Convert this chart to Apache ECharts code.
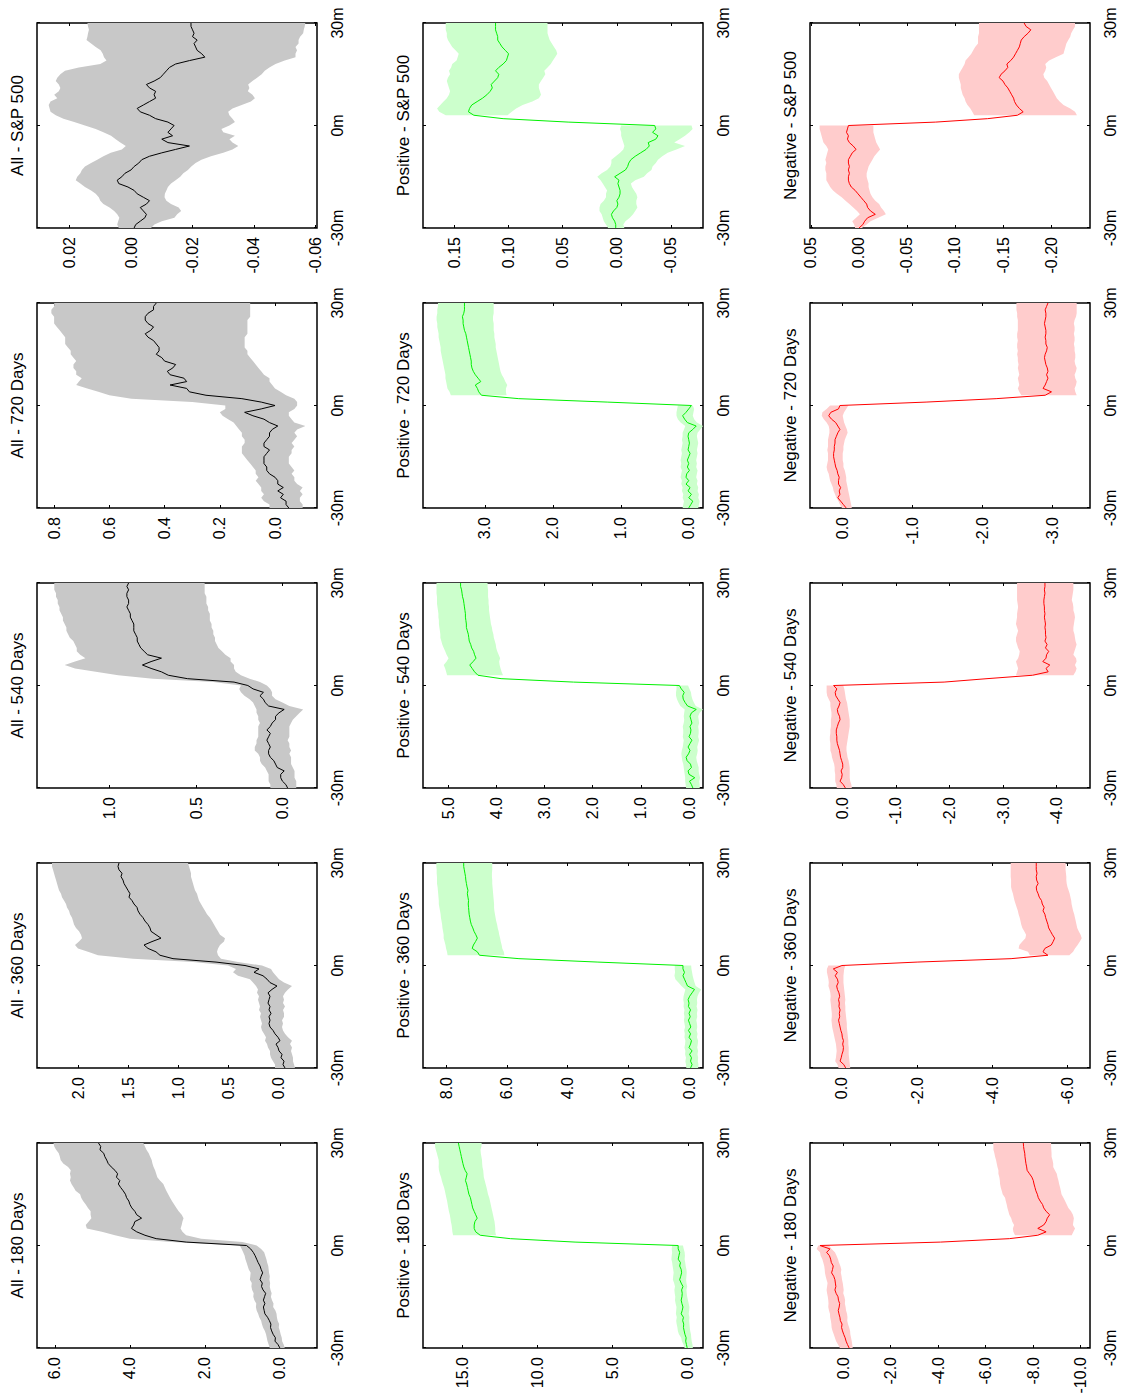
<!DOCTYPE html>
<html>
<head>
<meta charset="utf-8">
<script src="https://cdn.jsdelivr.net/npm/echarts@6/dist/echarts.min.js"></script>
<style>
  html, body { margin: 0; padding: 0; overflow: hidden; background: #fff; }
  /* the figure is laid out landscape and turned a quarter turn, like the scanned page */
  #chart {
    position: absolute; left: 0; top: 0;
    width: 1397px; height: 1122px;
    transform-origin: 0 0;
    transform: translateY(1397px) rotate(-90deg);
  }
</style>
</head>
<body>
<div id="chart"></div>
<script>
const minutes = [-30,-29,-28,-27,-26,-25,-24,-23,-22,-21,-20,-19,-18,-17,-16,-15,-14,-13,-12,-11,
  -10,-9,-8,-7,-6,-5,-4,-3,-2,-1,0,1,2,3,4,5,6,7,8,9,10,11,12,13,14,15,16,17,18,19,
  20,21,22,23,24,25,26,27,28,29,30];
const timeTicks = [-30, 0, 30];
const periods = ['180 Days', '360 Days', '540 Days', '720 Days', 'S&P 500'];

// ---- All ----
const allMean180 = [0.00,0.05,0.13,0.12,0.18,0.22,0.25,0.24,0.28,0.33,
  0.40,0.42,0.44,0.40,0.44,0.41,0.38,0.45,0.49,0.47,
  0.53,0.50,0.46,0.50,0.53,0.58,0.62,0.66,0.71,0.78,
  0.89,2.50,3.30,3.60,3.82,3.96,3.90,3.87,3.69,3.82,
  3.87,3.95,4.00,4.03,4.09,4.12,4.18,4.25,4.31,4.27,
  4.36,4.33,4.40,4.50,4.58,4.62,4.67,4.70,4.80,4.78,
  4.84];
const allUp180 = [0.27,0.30,0.33,0.35,0.37,0.40,0.45,0.48,0.50,0.55,
  0.58,0.62,0.64,0.63,0.68,0.71,0.70,0.74,0.76,0.75,
  0.80,0.79,0.78,0.83,0.86,0.89,0.92,0.94,0.98,1.02,
  1.07,2.90,4.00,4.40,4.75,5.15,5.18,5.10,5.03,5.05,
  5.05,5.12,5.18,5.25,5.30,5.33,5.45,5.50,5.56,5.60,
  5.58,5.60,5.58,5.65,5.78,5.85,5.87,5.90,5.97,6.02,
  6.04];
const allLow180 = [-0.13,-0.10,-0.06,-0.05,-0.02,0.00,0.03,0.02,0.06,0.08,
  0.09,0.12,0.18,0.17,0.21,0.24,0.22,0.25,0.27,0.26,
  0.28,0.27,0.29,0.30,0.31,0.34,0.36,0.39,0.42,0.50,
  0.62,1.00,2.10,2.50,2.60,2.65,2.62,2.60,2.57,2.62,
  2.70,2.76,2.82,2.88,2.93,2.98,3.03,3.07,3.11,3.20,
  3.27,3.30,3.33,3.37,3.40,3.42,3.46,3.50,3.56,3.60,
  3.64];

const allMean360 = [-0.07,-0.05,-0.06,-0.03,-0.04,-0.01,0.00,0.02,-0.02,0.00,
  0.03,0.05,0.08,0.09,0.08,0.09,0.07,0.09,0.08,0.10,
  0.09,0.08,0.10,0.06,0.01,0.08,0.11,0.15,0.24,0.19,
  0.33,0.62,1.05,1.18,1.22,1.30,1.34,1.26,1.17,1.22,
  1.27,1.28,1.30,1.33,1.35,1.38,1.40,1.41,1.44,1.46,
  1.49,1.48,1.50,1.52,1.54,1.55,1.57,1.56,1.59,1.60,
  1.59];
const allUp360 = [0.03,0.03,0.05,0.07,0.08,0.08,0.10,0.11,0.13,0.12,
  0.14,0.16,0.17,0.16,0.17,0.18,0.17,0.19,0.18,0.19,
  0.20,0.19,0.21,0.20,0.22,0.25,0.28,0.40,0.45,0.42,
  0.50,0.85,1.45,1.80,1.90,2.00,2.03,1.99,1.96,1.97,
  1.99,2.02,2.04,2.05,2.06,2.08,2.09,2.11,2.12,2.14,
  2.16,2.17,2.19,2.20,2.21,2.22,2.23,2.24,2.25,2.26,
  2.26];
const allLow360 = [-0.17,-0.16,-0.15,-0.15,-0.14,-0.13,-0.14,-0.12,-0.14,-0.10,
  -0.07,-0.05,-0.04,-0.05,-0.04,-0.06,-0.06,-0.05,-0.07,-0.05,
  -0.06,-0.05,-0.07,-0.10,-0.14,-0.06,-0.01,0.02,0.05,0.07,
  0.16,0.40,0.57,0.60,0.61,0.60,0.58,0.54,0.53,0.58,
  0.60,0.62,0.64,0.66,0.68,0.71,0.73,0.75,0.77,0.79,
  0.80,0.81,0.83,0.84,0.85,0.86,0.87,0.87,0.88,0.89,
  0.90];

const allMean540 = [-0.03,-0.02,0.00,0.01,0.01,-0.01,0.03,0.04,0.05,0.07,
  0.08,0.08,0.07,0.08,0.09,0.08,0.07,0.09,0.07,0.06,
  0.04,0.04,0.02,-0.01,0.08,0.10,0.11,0.13,0.11,0.17,
  0.20,0.28,0.55,0.66,0.70,0.76,0.81,0.76,0.70,0.78,
  0.80,0.82,0.83,0.84,0.84,0.85,0.86,0.86,0.86,0.87,
  0.88,0.88,0.89,0.90,0.89,0.89,0.90,0.90,0.89,0.90,
  0.89];
const allUp540 = [0.07,0.07,0.08,0.08,0.08,0.09,0.10,0.12,0.13,0.13,
  0.14,0.16,0.16,0.15,0.15,0.14,0.14,0.14,0.14,0.13,
  0.14,0.14,0.15,0.15,0.16,0.17,0.19,0.22,0.24,0.25,
  0.24,0.40,0.75,0.95,1.08,1.20,1.26,1.20,1.14,1.17,
  1.19,1.19,1.20,1.21,1.23,1.24,1.25,1.25,1.26,1.27,
  1.27,1.28,1.29,1.29,1.30,1.30,1.31,1.31,1.32,1.32,
  1.32];
const allLow540 = [-0.08,-0.08,-0.08,-0.07,-0.07,-0.07,-0.06,-0.05,-0.05,-0.05,
  -0.04,-0.05,-0.04,-0.04,-0.03,-0.04,-0.04,-0.04,-0.04,-0.05,
  -0.06,-0.08,-0.10,-0.12,-0.04,0.00,0.04,0.06,0.06,0.07,
  0.09,0.13,0.19,0.24,0.27,0.28,0.28,0.30,0.30,0.33,
  0.35,0.37,0.38,0.39,0.39,0.40,0.40,0.41,0.41,0.42,
  0.42,0.42,0.43,0.43,0.44,0.44,0.44,0.45,0.45,0.45,
  0.45];

const allMean720 = [-0.05,-0.04,-0.04,-0.02,-0.03,-0.01,-0.03,-0.01,-0.01,0.00,
  0.02,0.03,0.03,0.04,0.04,0.04,0.03,0.02,0.04,0.04,
  0.03,0.02,0.02,0.01,-0.01,0.02,0.04,0.08,0.11,0.05,
  0.00,0.05,0.12,0.25,0.31,0.32,0.38,0.32,0.33,0.38,
  0.39,0.37,0.36,0.40,0.41,0.43,0.42,0.42,0.43,0.44,
  0.46,0.47,0.45,0.44,0.46,0.47,0.47,0.46,0.44,0.44,
  0.43];
const allUp720 = [0.02,0.02,0.04,0.05,0.04,0.05,0.05,0.06,0.07,0.06,
  0.07,0.07,0.08,0.09,0.10,0.11,0.12,0.12,0.12,0.11,
  0.11,0.12,0.12,0.13,0.14,0.15,0.17,0.19,0.20,0.18,
  0.18,0.30,0.52,0.60,0.64,0.68,0.72,0.71,0.70,0.72,
  0.72,0.73,0.73,0.72,0.73,0.74,0.74,0.75,0.76,0.76,
  0.76,0.77,0.78,0.79,0.80,0.80,0.80,0.81,0.81,0.80,
  0.80];
const allLow720 = [-0.10,-0.10,-0.09,-0.09,-0.10,-0.09,-0.10,-0.08,-0.07,-0.07,
  -0.06,-0.07,-0.06,-0.05,-0.05,-0.05,-0.06,-0.06,-0.07,-0.06,
  -0.07,-0.08,-0.07,-0.08,-0.11,-0.07,-0.06,-0.05,-0.05,-0.07,
  -0.08,-0.08,-0.07,-0.04,-0.02,0.00,0.01,0.02,0.02,0.04,
  0.05,0.06,0.07,0.08,0.09,0.10,0.10,0.11,0.11,0.11,
  0.11,0.10,0.10,0.10,0.10,0.10,0.09,0.09,0.09,0.09,
  0.09];

const allMeanSpx = [-0.0010,-0.0015,-0.0030,-0.0045,-0.0050,-0.0040,-0.0030,-0.0050,-0.0060,-0.0040,
  -0.0020,-0.0010,0.0010,0.0040,0.0045,0.0030,0.0020,0.0000,-0.0010,-0.0025,
  -0.0035,-0.0060,-0.0100,-0.0145,-0.0190,-0.0120,-0.0100,-0.0135,-0.0120,-0.0130,
  -0.0140,-0.0120,-0.0080,-0.0060,-0.0030,-0.0020,-0.0040,-0.0060,-0.0080,-0.0075,
  -0.0080,-0.0060,-0.0050,-0.0075,-0.0095,-0.0105,-0.0115,-0.0125,-0.0145,-0.0190,
  -0.0240,-0.0230,-0.0215,-0.0210,-0.0205,-0.0215,-0.0200,-0.0205,-0.0200,-0.0195,
  -0.0195];
const allUpSpx = [0.0040,0.0045,0.0042,0.0038,0.0045,0.0055,0.0070,0.0090,0.0100,0.0105,
  0.0115,0.0130,0.0150,0.0165,0.0180,0.0175,0.0165,0.0160,0.0150,0.0130,
  0.0110,0.0090,0.0066,0.0030,0.0017,0.0035,0.0050,0.0065,0.0090,0.0115,
  0.0150,0.0185,0.0220,0.0245,0.0262,0.0265,0.0268,0.0262,0.0240,0.0250,
  0.0235,0.0230,0.0235,0.0245,0.0240,0.0230,0.0215,0.0170,0.0100,0.0080,
  0.0088,0.0092,0.0099,0.0115,0.0130,0.0145,0.0142,0.0140,0.0137,0.0140,
  0.0142];
const allLowSpx = [-0.0065,-0.0076,-0.0100,-0.0141,-0.0150,-0.0163,-0.0155,-0.0130,-0.0115,-0.0109,
  -0.0110,-0.0115,-0.0120,-0.0130,-0.0145,-0.0160,-0.0170,-0.0185,-0.0196,-0.0210,
  -0.0229,-0.0260,-0.0300,-0.0330,-0.0349,-0.0330,-0.0320,-0.0338,-0.0300,-0.0294,
  -0.0320,-0.0338,-0.0330,-0.0320,-0.0316,-0.0330,-0.0360,-0.0390,-0.0403,-0.0395,
  -0.0380,-0.0385,-0.0381,-0.0395,-0.0410,-0.0425,-0.0435,-0.0450,-0.0470,-0.0500,
  -0.0535,-0.0535,-0.0540,-0.0535,-0.0545,-0.0545,-0.0550,-0.0560,-0.0562,-0.0565,
  -0.0567];

// ---- Positive ----
const posMean180 = [0.05,0.10,0.15,0.12,0.20,0.25,0.30,0.28,0.35,0.30,
  0.45,0.38,0.33,0.40,0.45,0.40,0.38,0.42,0.33,0.45,
  0.55,0.48,0.42,0.45,0.55,0.50,0.65,0.60,0.55,0.65,
  0.65,7.50,11.80,13.80,14.10,14.20,14.20,14.15,14.00,14.10,
  14.20,14.30,14.35,14.40,14.45,14.55,14.60,14.65,14.70,14.78,
  14.72,14.67,14.80,14.89,14.95,15.00,15.05,15.10,15.15,15.20,
  15.25];
const posUp180 = [0.22,0.30,0.40,0.45,0.60,0.67,0.70,0.75,0.78,0.74,
  0.80,0.78,0.76,0.82,0.86,0.84,0.88,0.90,0.86,0.92,
  1.00,0.98,0.95,0.98,1.02,1.05,1.10,1.08,1.05,1.08,
  1.05,null,null,15.60,15.65,15.67,15.70,15.75,15.78,15.82,
  15.88,15.92,15.96,16.00,16.05,16.10,16.15,16.20,16.28,16.35,
  16.40,16.48,16.54,16.56,16.55,16.56,16.62,16.68,16.75,16.80,
  16.80];
const posLow180 = [-0.33,-0.30,-0.25,-0.22,-0.20,-0.15,-0.12,-0.10,-0.08,-0.10,
  -0.05,-0.08,-0.10,-0.05,0.00,0.05,0.08,0.10,0.05,0.10,
  0.12,0.10,0.08,0.10,0.15,0.18,0.22,0.20,0.22,0.28,
  0.33,null,null,12.75,12.80,12.80,12.82,12.85,12.90,12.95,
  13.00,13.05,13.10,13.15,13.20,13.28,13.33,13.38,13.44,13.50,
  13.56,13.58,13.60,13.65,13.67,13.68,13.72,13.76,13.78,13.72,
  13.70];

const posMean360 = [-0.05,-0.10,-0.05,-0.08,-0.02,-0.10,0.00,-0.05,-0.08,0.00,
  -0.05,0.02,-0.06,-0.02,0.02,-0.04,0.00,-0.05,0.02,0.00,
  0.03,-0.02,-0.10,-0.18,0.05,0.10,0.15,0.20,0.15,0.20,
  0.20,3.00,5.60,6.90,6.97,7.14,7.10,7.03,6.97,7.02,
  7.08,7.12,7.17,7.20,7.22,7.24,7.25,7.26,7.27,7.26,
  7.28,7.30,7.28,7.31,7.33,7.35,7.36,7.38,7.40,7.42,
  7.42];
const posUp360 = [0.09,0.10,0.12,0.10,0.13,0.12,0.15,0.13,0.12,0.15,
  0.14,0.16,0.13,0.15,0.17,0.15,0.17,0.15,0.18,0.17,
  0.19,0.18,0.15,0.12,0.25,0.35,0.45,0.48,0.46,0.47,
  0.47,null,null,7.95,7.97,8.00,8.02,8.05,8.08,8.08,
  8.10,8.12,8.13,8.15,8.17,8.18,8.20,8.22,8.24,8.24,
  8.25,8.26,8.27,8.28,8.30,8.30,8.30,8.31,8.31,8.32,
  8.32];
const posLow360 = [-0.30,-0.31,-0.29,-0.30,-0.28,-0.30,-0.27,-0.29,-0.30,-0.26,
  -0.28,-0.25,-0.27,-0.26,-0.24,-0.27,-0.26,-0.28,-0.25,-0.27,
  -0.26,-0.28,-0.33,-0.40,-0.22,-0.18,-0.15,-0.12,-0.10,-0.08,
  -0.07,null,null,6.08,6.10,6.15,6.17,6.20,6.22,6.25,
  6.27,6.30,6.32,6.35,6.37,6.39,6.41,6.42,6.42,6.43,
  6.44,6.45,6.46,6.47,6.48,6.48,6.49,6.49,6.48,6.48,
  6.48];

const posMean540 = [-0.08,-0.05,-0.01,-0.12,0.00,0.02,-0.05,-0.03,0.04,0.06,
  0.01,-0.02,0.02,-0.02,-0.06,0.00,-0.03,-0.04,-0.02,-0.06,
  -0.04,-0.02,-0.05,-0.15,0.03,0.08,0.12,0.13,0.10,0.16,
  0.20,2.40,3.90,4.38,4.45,4.50,4.55,4.48,4.42,4.45,
  4.47,4.51,4.53,4.56,4.57,4.58,4.60,4.62,4.62,4.63,
  4.64,4.64,4.65,4.66,4.67,4.68,4.70,4.71,4.72,4.74,
  4.74];
const posUp540 = [0.06,0.07,0.08,0.08,0.09,0.10,0.11,0.12,0.14,0.15,
  0.16,0.15,0.13,0.12,0.11,0.13,0.12,0.12,0.13,0.11,
  0.10,0.11,0.10,0.09,0.18,0.22,0.25,0.27,0.27,0.26,
  0.26,null,null,5.02,5.04,5.06,5.09,5.03,4.99,5.03,
  5.06,5.09,5.12,5.14,5.16,5.16,5.17,5.18,5.19,5.19,
  5.20,5.20,5.21,5.22,5.23,5.23,5.23,5.24,5.24,5.24,
  5.24];
const posLow540 = [-0.22,-0.22,-0.21,-0.23,-0.21,-0.20,-0.20,-0.18,-0.16,-0.15,
  -0.17,-0.18,-0.17,-0.19,-0.21,-0.19,-0.20,-0.20,-0.19,-0.21,
  -0.20,-0.19,-0.22,-0.29,-0.14,-0.10,-0.07,-0.05,-0.04,-0.01,
  0.02,null,null,3.86,3.89,3.91,3.93,3.94,3.92,3.95,
  3.98,4.00,4.01,4.03,4.05,4.06,4.08,4.09,4.11,4.12,
  4.13,4.14,4.15,4.15,4.16,4.16,4.17,4.17,4.17,4.18,
  4.18];

const posMean720 = [0.00,-0.03,-0.06,0.00,-0.04,0.01,-0.02,0.04,0.00,0.04,
  0.03,-0.01,0.02,0.00,0.02,0.00,-0.02,0.01,0.00,-0.01,
  0.00,0.01,0.00,-0.06,-0.11,0.02,0.06,0.09,0.04,0.00,
  -0.04,1.20,2.50,3.05,3.09,3.11,3.14,3.06,3.10,3.14,
  3.17,3.19,3.20,3.20,3.21,3.22,3.23,3.24,3.25,3.26,
  3.27,3.28,3.30,3.31,3.32,3.32,3.33,3.31,3.30,3.30,
  3.30];
const posUp720 = [0.09,0.08,0.07,0.09,0.08,0.10,0.09,0.11,0.10,0.12,
  0.11,0.10,0.12,0.11,0.12,0.11,0.10,0.11,0.10,0.09,
  0.10,0.09,0.09,0.07,0.05,0.12,0.16,0.18,0.18,0.17,
  0.16,null,null,3.50,3.52,3.55,3.56,3.57,3.58,3.58,
  3.59,3.60,3.61,3.62,3.63,3.64,3.65,3.65,3.66,3.67,
  3.68,3.68,3.69,3.70,3.70,3.71,3.71,3.70,3.70,3.69,
  3.69];
const posLow720 = [-0.14,-0.15,-0.16,-0.14,-0.15,-0.13,-0.14,-0.12,-0.13,-0.11,
  -0.12,-0.13,-0.11,-0.12,-0.11,-0.12,-0.13,-0.12,-0.13,-0.14,
  -0.13,-0.12,-0.13,-0.17,-0.21,-0.12,-0.08,-0.06,-0.07,-0.08,
  -0.06,null,null,2.68,2.69,2.69,2.67,2.70,2.72,2.75,
  2.77,2.78,2.79,2.80,2.81,2.82,2.83,2.84,2.84,2.85,
  2.86,2.86,2.87,2.87,2.87,2.88,2.88,2.87,2.87,2.87,
  2.87];

const posMeanSpx = [0.001,0.001,0.002,0.004,0.005,0.003,0.000,-0.001,0.000,-0.002,
  -0.003,-0.003,-0.002,-0.001,-0.002,0.002,-0.003,-0.008,-0.010,-0.011,
  -0.013,-0.017,-0.022,-0.027,-0.030,-0.029,-0.036,-0.038,-0.033,-0.036,
  -0.035,0.045,0.105,0.132,0.137,0.136,0.134,0.129,0.124,0.120,
  0.117,0.115,0.116,0.113,0.110,0.109,0.112,0.109,0.105,0.102,
  0.101,0.100,0.103,0.106,0.108,0.110,0.110,0.111,0.112,0.112,
  0.112];
const posUpSpx = [0.008,0.010,0.012,0.013,0.014,0.016,0.016,0.015,0.012,0.010,
  0.010,0.009,0.011,0.013,0.015,0.018,0.014,0.009,0.006,0.005,
  0.005,0.001,-0.003,-0.006,-0.007,-0.006,-0.005,-0.004,-0.004,-0.003,
  -0.004,null,null,0.158,0.164,0.166,0.163,0.160,0.157,0.155,
  0.154,0.155,0.156,0.157,0.156,0.154,0.155,0.153,0.152,0.148,
  0.147,0.146,0.149,0.152,0.154,0.156,0.157,0.157,0.158,0.158,
  0.158];
const posLowSpx = [-0.007,-0.006,-0.008,-0.012,-0.015,-0.017,-0.019,-0.018,-0.018,-0.019,
  -0.018,-0.016,-0.014,-0.013,-0.017,-0.025,-0.028,-0.032,-0.033,-0.036,
  -0.038,-0.042,-0.047,-0.055,-0.063,-0.053,-0.058,-0.063,-0.067,-0.070,
  -0.069,null,null,0.101,0.097,0.093,0.087,0.078,0.072,0.070,
  0.071,0.072,0.072,0.070,0.068,0.066,0.067,0.064,0.061,0.059,
  0.057,0.055,0.056,0.058,0.060,0.062,0.063,0.064,0.064,0.064,
  0.064];

// ---- Negative ----
const negMean180 = [-0.25,-0.18,-0.12,-0.08,-0.02,0.03,0.07,0.05,0.12,0.14,
  0.18,0.21,0.17,0.15,0.20,0.22,0.30,0.35,0.31,0.33,
  0.35,0.40,0.49,0.45,0.42,0.50,0.53,0.58,0.70,0.56,
  0.98,-4.10,-7.00,-8.20,-8.55,-8.20,-8.45,-8.55,-8.60,-8.70,
  -8.55,-8.45,-8.40,-8.30,-8.22,-8.18,-8.12,-8.08,-8.04,-8.01,
  -7.95,-7.85,-7.75,-7.73,-7.70,-7.68,-7.66,-7.65,-7.62,-7.60,
  -7.59];
const negUp180 = [0.14,0.22,0.30,0.35,0.40,0.45,0.49,0.50,0.52,0.55,
  0.56,0.60,0.63,0.62,0.63,0.65,0.68,0.70,0.68,0.66,
  0.70,0.74,0.77,0.78,0.80,0.84,0.88,0.95,0.98,1.12,
  1.05,null,null,-7.24,-7.17,-7.15,-7.20,-7.12,-7.08,-7.00,
  -6.96,-6.92,-6.89,-6.85,-6.82,-6.72,-6.68,-6.64,-6.61,-6.60,
  -6.58,-6.54,-6.54,-6.50,-6.47,-6.44,-6.40,-6.37,-6.33,-6.33,
  -6.32];
const negLow180 = [-0.40,-0.38,-0.36,-0.33,-0.30,-0.29,-0.25,-0.20,-0.17,-0.18,
  -0.16,-0.12,-0.10,-0.07,-0.08,-0.05,0.00,-0.02,0.00,0.02,
  0.05,0.07,0.10,0.08,0.12,0.18,0.22,0.28,0.35,0.49,
  0.60,null,null,-9.63,-9.70,-9.77,-9.68,-9.70,-9.72,-9.68,
  -9.60,-9.49,-9.42,-9.35,-9.28,-9.20,-9.17,-9.14,-9.10,-9.07,
  -9.03,-9.00,-8.92,-8.85,-8.85,-8.82,-8.78,-8.78,-8.77,-8.76,
  -8.76];

const negMean360 = [-0.10,-0.05,0.05,0.02,0.00,-0.03,-0.04,-0.02,-0.04,-0.01,
  0.00,0.03,0.05,0.07,0.09,0.06,0.07,0.05,0.08,0.07,
  0.09,0.06,0.08,0.12,0.14,0.10,0.12,0.18,0.12,0.23,
  0.00,-2.00,-4.50,-5.48,-5.35,-5.40,-5.57,-5.62,-5.66,-5.60,
  -5.55,-5.50,-5.48,-5.45,-5.42,-5.40,-5.35,-5.38,-5.33,-5.31,
  -5.25,-5.22,-5.18,-5.17,-5.22,-5.18,-5.17,-5.19,-5.17,-5.17,
  -5.17];
const negUp360 = [0.09,0.12,0.18,0.16,0.15,0.14,0.15,0.16,0.18,0.20,
  0.22,0.24,0.26,0.27,0.28,0.27,0.27,0.28,0.29,0.30,
  0.31,0.30,0.31,0.33,0.36,0.35,0.36,0.38,0.40,0.40,
  0.36,null,null,-5.00,-4.95,-4.70,-4.72,-4.80,-4.88,-4.90,
  -4.85,-4.80,-4.77,-4.75,-4.73,-4.70,-4.68,-4.65,-4.62,-4.59,
  -4.57,-4.55,-4.52,-4.50,-4.50,-4.50,-4.49,-4.49,-4.49,-4.49,
  -4.49];
const negLow360 = [-0.22,-0.21,-0.20,-0.19,-0.18,-0.18,-0.18,-0.17,-0.17,-0.16,
  -0.15,-0.14,-0.13,-0.13,-0.12,-0.11,-0.10,-0.09,-0.09,-0.08,
  -0.09,-0.08,-0.07,-0.06,-0.05,-0.04,-0.04,-0.04,-0.05,-0.06,
  -0.09,null,null,-6.05,-6.15,-6.20,-6.27,-6.33,-6.38,-6.35,
  -6.30,-6.26,-6.24,-6.22,-6.20,-6.18,-6.15,-6.13,-6.11,-6.10,
  -6.08,-6.06,-6.03,-6.00,-5.98,-5.97,-5.97,-5.96,-5.95,-5.95,
  -5.95];

const negMean540 = [-0.06,-0.02,0.04,0.01,0.00,0.02,-0.01,-0.01,0.01,0.03,
  0.04,0.05,0.07,0.09,0.10,0.10,0.11,0.11,0.09,0.07,
  0.04,0.05,0.08,0.09,0.06,0.04,0.08,0.12,0.13,0.10,
  0.16,-1.90,-2.70,-3.55,-3.84,-3.80,-3.87,-3.74,-3.80,-3.81,
  -3.85,-3.79,-3.82,-3.78,-3.80,-3.79,-3.79,-3.78,-3.79,-3.78,
  -3.77,-3.78,-3.77,-3.77,-3.76,-3.76,-3.77,-3.78,-3.77,-3.78,
  -3.78];
const negUp540 = [0.10,0.11,0.13,0.13,0.13,0.14,0.14,0.15,0.17,0.19,
  0.20,0.22,0.22,0.22,0.23,0.23,0.22,0.22,0.21,0.21,
  0.21,0.20,0.20,0.21,0.22,0.22,0.25,0.28,0.29,0.29,
  0.29,null,null,-3.24,-3.26,-3.28,-3.26,-3.24,-3.28,-3.30,
  -3.31,-3.28,-3.26,-3.24,-3.24,-3.26,-3.28,-3.26,-3.24,-3.25,
  -3.26,-3.26,-3.27,-3.28,-3.27,-3.26,-3.26,-3.26,-3.26,-3.26,
  -3.26];
const negLow540 = [-0.18,-0.17,-0.15,-0.14,-0.14,-0.14,-0.14,-0.13,-0.12,-0.10,
  -0.09,-0.08,-0.08,-0.09,-0.10,-0.11,-0.12,-0.13,-0.14,-0.14,
  -0.14,-0.13,-0.12,-0.11,-0.10,-0.09,-0.07,-0.06,-0.05,-0.04,
  -0.02,null,null,-4.31,-4.35,-4.37,-4.34,-4.37,-4.36,-4.31,
  -4.33,-4.35,-4.37,-4.35,-4.34,-4.33,-4.31,-4.31,-4.32,-4.33,
  -4.34,-4.33,-4.31,-4.31,-4.30,-4.28,-4.29,-4.30,-4.31,-4.31,
  -4.31];

const negMean720 = [-0.06,-0.02,0.02,0.06,0.03,0.04,0.02,0.05,0.05,0.04,
  0.06,0.07,0.09,0.10,0.11,0.12,0.12,0.11,0.11,0.10,
  0.10,0.08,0.06,0.03,0.06,0.09,0.15,0.19,0.16,0.05,
  0.03,-1.20,-2.20,-2.90,-2.99,-2.87,-2.90,-2.92,-2.94,-2.92,
  -2.94,-2.93,-2.91,-2.90,-2.89,-2.90,-2.92,-2.93,-2.91,-2.91,
  -2.90,-2.91,-2.91,-2.90,-2.89,-2.90,-2.91,-2.91,-2.90,-2.92,
  -2.94];
const negUp720 = [0.00,0.03,0.05,0.08,0.10,0.12,0.13,0.15,0.17,0.18,
  0.19,0.21,0.22,0.21,0.20,0.20,0.20,0.21,0.20,0.20,
  0.20,0.19,0.18,0.18,0.19,0.22,0.26,0.29,0.28,0.22,
  0.17,null,null,-2.56,-2.53,-2.51,-2.53,-2.52,-2.51,-2.53,
  -2.52,-2.51,-2.52,-2.51,-2.51,-2.50,-2.51,-2.50,-2.50,-2.51,
  -2.50,-2.50,-2.51,-2.51,-2.51,-2.51,-2.50,-2.50,-2.49,-2.49,
  -2.49];
const negLow720 = [-0.14,-0.13,-0.12,-0.11,-0.10,-0.09,-0.08,-0.07,-0.06,-0.06,
  -0.05,-0.04,-0.02,-0.02,-0.01,-0.01,-0.01,-0.02,-0.02,-0.03,
  -0.04,-0.06,-0.08,-0.07,-0.05,-0.03,-0.02,-0.01,-0.03,-0.06,
  -0.09,null,null,-3.35,-3.33,-3.32,-3.34,-3.35,-3.33,-3.32,
  -3.34,-3.35,-3.33,-3.32,-3.33,-3.33,-3.32,-3.32,-3.31,-3.32,
  -3.32,-3.31,-3.32,-3.32,-3.31,-3.32,-3.34,-3.35,-3.35,-3.35,
  -3.35];

const negMeanSpx = [0.000,-0.004,-0.006,-0.009,-0.017,-0.012,-0.009,-0.008,-0.005,-0.002,
  0.001,0.004,0.008,0.010,0.011,0.011,0.010,0.011,0.010,0.011,
  0.011,0.009,0.007,0.003,0.006,0.010,0.012,0.011,0.013,0.012,
  0.011,-0.080,-0.134,-0.165,-0.171,-0.167,-0.164,-0.162,-0.161,-0.159,
  -0.157,-0.155,-0.152,-0.150,-0.146,-0.148,-0.152,-0.155,-0.154,-0.158,
  -0.161,-0.163,-0.165,-0.167,-0.168,-0.169,-0.172,-0.176,-0.179,-0.174,
  -0.172];
const negUpSpx = [0.004,0.005,0.007,0.003,-0.001,0.002,0.006,0.010,0.014,0.018,
  0.023,0.027,0.030,0.032,0.034,0.034,0.034,0.035,0.035,0.034,
  0.035,0.034,0.033,0.032,0.034,0.037,0.038,0.039,0.040,0.041,
  0.041,null,null,-0.120,-0.118,-0.116,-0.113,-0.111,-0.110,-0.108,
  -0.107,-0.106,-0.106,-0.105,-0.104,-0.104,-0.106,-0.108,-0.110,-0.111,
  -0.114,-0.117,-0.119,-0.121,-0.124,-0.124,-0.124,-0.125,-0.125,-0.125,
  -0.125];
const negLowSpx = [-0.003,-0.008,-0.012,-0.020,-0.028,-0.026,-0.023,-0.021,-0.017,-0.014,
  -0.012,-0.011,-0.010,-0.010,-0.009,-0.008,-0.008,-0.009,-0.010,-0.012,
  -0.014,-0.016,-0.019,-0.022,-0.020,-0.018,-0.017,-0.016,-0.015,-0.015,
  -0.015,null,null,-0.227,-0.225,-0.220,-0.213,-0.209,-0.206,-0.204,
  -0.202,-0.200,-0.198,-0.196,-0.193,-0.192,-0.194,-0.195,-0.194,-0.198,
  -0.205,-0.213,-0.214,-0.215,-0.216,-0.218,-0.220,-0.221,-0.223,-0.225,
  -0.225];

// value-axis extents and tick labels, per panel (180, 360, 540, 720, S&P 500)
const allRanges = [[-0.99, 6.48], [-0.39, 2.41], [-0.2, 1.42], [-0.152, 0.862], [-0.0605, 0.0306]];
const posRanges = [[-1.0, 17.6], [-0.46, 8.76], [-0.29, 5.52], [-0.21, 3.91], [-0.0796, 0.179]];
const negRanges = [[-10.4, 1.4], [-6.6, 0.85], [-4.62, 0.6], [-3.54, 0.457], [-0.2406, 0.051]];
const allTicks = [[0, 2, 4, 6], [0, 0.5, 1, 1.5, 2], [0, 0.5, 1], [0, 0.2, 0.4, 0.6, 0.8], [-0.06, -0.04, -0.02, 0, 0.02]];
const posTicks = [[0, 5, 10, 15], [0, 2, 4, 6, 8], [0, 1, 2, 3, 4, 5], [0, 1, 2, 3], [-0.05, 0, 0.05, 0.10, 0.15]];
const negTicks = [[-10, -8, -6, -4, -2, 0], [-6, -4, -2, 0], [-4, -3, -2, -1, 0], [-3, -2, -1, 0], [-0.20, -0.15, -0.10, -0.05, 0, 0.05]];
const tickDecimals = [1, 1, 1, 1, 2];

const groups = [
  { name: 'All', line: '#000000', band: '#c8c8c8', ranges: allRanges, ticks: allTicks,
    mean: [allMean180, allMean360, allMean540, allMean720, allMeanSpx],
    up: [allUp180, allUp360, allUp540, allUp720, allUpSpx],
    low: [allLow180, allLow360, allLow540, allLow720, allLowSpx] },
  { name: 'Positive', line: '#00f000', band: '#ccffcc', ranges: posRanges, ticks: posTicks,
    mean: [posMean180, posMean360, posMean540, posMean720, posMeanSpx],
    up: [posUp180, posUp360, posUp540, posUp720, posUpSpx],
    low: [posLow180, posLow360, posLow540, posLow720, posLowSpx] },
  { name: 'Negative', line: '#ff0000', band: '#ffcccc', ranges: negRanges, ticks: negTicks,
    mean: [negMean180, negMean360, negMean540, negMean720, negMeanSpx],
    up: [negUp180, negUp360, negUp540, negUp720, negUpSpx],
    low: [negLow180, negLow360, negLow540, negLow720, negLowSpx] }
];

const FONT = '"Liberation Sans", Arial, Helvetica, sans-serif';
const rowTop = [37, 423, 810];
const colLeft = [49, 329, 609, 889, 1169];
const W = 205, H = 280;

const grid = [], xAxis = [], yAxis = [], series = [], graphic = [];
const isTimeTick = (i, v) => timeTicks.indexOf(Number(v)) >= 0;
const tick = { show: true, inside: true, length: 3, lineStyle: { color: '#000', width: 1 } };
const noLine = { show: false, onZero: false };

groups.forEach((g, r) => {
  periods.forEach((p, c) => {
    const k = grid.length;
    grid.push({ left: colLeft[c], top: rowTop[r], width: W, height: H,
      show: true, borderColor: '#000', borderWidth: 1.5, backgroundColor: 'transparent',
      outerBoundsMode: 'none' });

    const cat = { gridIndex: k, type: 'category', data: minutes, boundaryGap: false,
      axisLine: noLine, splitLine: { show: false },
      axisTick: Object.assign({ interval: isTimeTick }, tick) };
    xAxis.push(Object.assign({}, cat, { position: 'bottom',
      axisLabel: { interval: isTimeTick, formatter: v => v + 'm', margin: 12,
        color: '#000', fontSize: 16, fontFamily: FONT } }));
    xAxis.push(Object.assign({}, cat, { position: 'top', axisLabel: { show: false } }));

    const dec = tickDecimals[c];
    const val = { gridIndex: k, type: 'value', min: g.ranges[c][0], max: g.ranges[c][1],
      axisLine: noLine, splitLine: { show: false },
      axisTick: Object.assign({ customValues: g.ticks[c] }, tick) };
    yAxis.push(Object.assign({}, val, { position: 'left',
      axisLabel: { customValues: g.ticks[c], formatter: v => Number(v).toFixed(dec), margin: 9,
        color: '#000', fontSize: 16, fontFamily: FONT } }));
    yAxis.push(Object.assign({}, val, { position: 'right', axisLabel: { show: false } }));

    const low = g.low[c], up = g.up[c];
    const base = low.map(v => v == null ? '-' : v);
    const width = low.map((v, i) => (v == null || up[i] == null) ? '-' : +(up[i] - v).toFixed(6));
    const common = { type: 'line', xAxisIndex: 2 * k, yAxisIndex: 2 * k, symbol: 'none',
      silent: true, animation: false };
    series.push(Object.assign({}, common, { data: base, stack: 'band' + k, stackStrategy: 'all',
      lineStyle: { width: 0, opacity: 0 }, z: 1 }));
    series.push(Object.assign({}, common, { data: width, stack: 'band' + k, stackStrategy: 'all',
      lineStyle: { width: 0, opacity: 0 }, areaStyle: { color: g.band, opacity: 1 }, z: 1 }));
    series.push(Object.assign({}, common, { data: g.mean[c],
      lineStyle: { color: g.line, width: 1 }, z: 3 }));

    graphic.push({ type: 'text', silent: true,
      x: colLeft[c] + W / 2, y: rowTop[r] - 20,
      style: { text: g.name + ' - ' + p, fill: '#000', fontSize: 17, fontFamily: FONT,
        align: 'center', verticalAlign: 'middle', textAlign: 'center', textVerticalAlign: 'middle' } });
  });
});

const chart = echarts.init(document.getElementById('chart'), null, { renderer: 'svg', width: 1397, height: 1122 });
chart.setOption({
  backgroundColor: '#ffffff',
  animation: false,
  grid, xAxis, yAxis, series, graphic
});
</script>
</body>
</html>
